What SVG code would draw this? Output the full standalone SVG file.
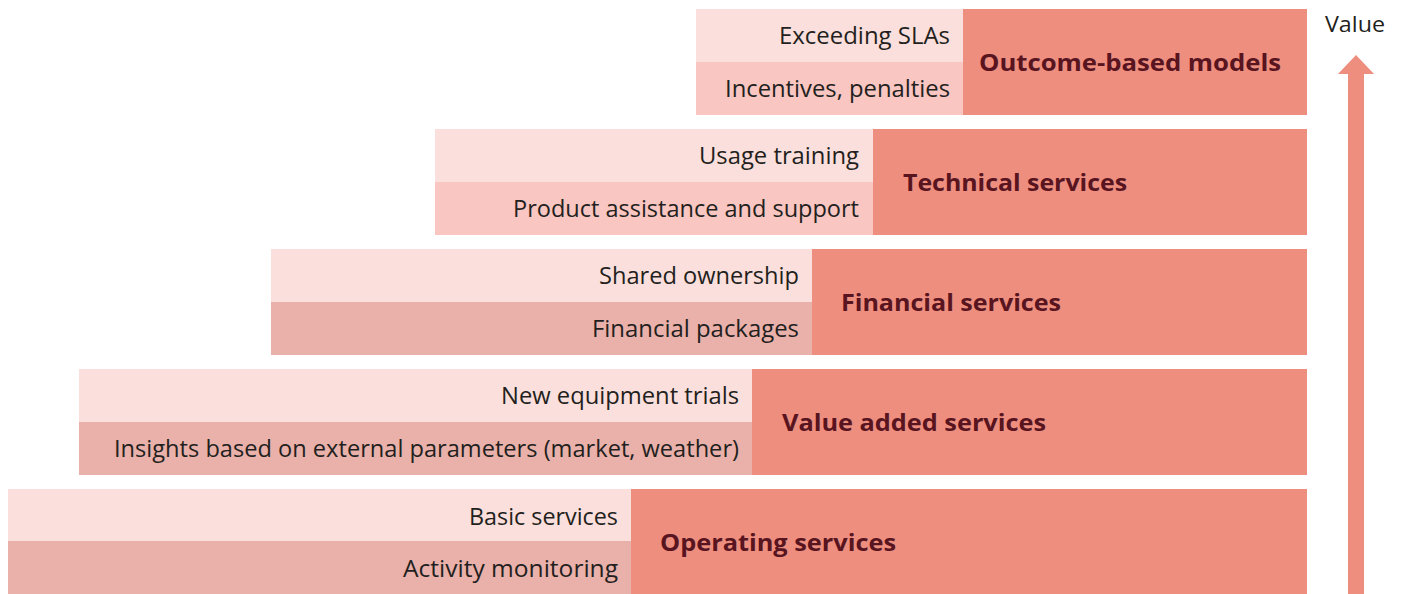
<svg xmlns="http://www.w3.org/2000/svg" width="1402" height="594" viewBox="0 0 1402 594">
  <style>
    .light { fill: #FBDFDC; }
    .pink { fill: #F9C6C1; }
    .dusty { fill: #EAB1AA; }
    .main { fill: #EE8E7E; }
    .sub { font-family: "Open Sans", "Noto Sans", sans-serif; font-size: 23px; fill: #231F20; text-anchor: end; }
    .head { font-family: "Open Sans", "Noto Sans", sans-serif; font-size: 24px; font-weight: bold; fill: #58141F; }
    .axis { font-family: "Open Sans", "Noto Sans", sans-serif; font-size: 22px; fill: #231F20; }
  </style>
  <rect width="1402" height="594" fill="#FFFFFF"/>

  <!-- Tier 5: outcome-based models -->
  <g id="outcome-based-models">
    <rect class="light" x="696" y="9" width="267" height="53"/>
    <rect class="pink" x="696" y="62" width="267" height="53"/>
    <rect class="main" x="963" y="9" width="344" height="106"/>
    <text class="sub" x="950" y="44" textLength="171" lengthAdjust="spacingAndGlyphs">Exceeding SLAs</text>
    <text class="sub" x="950" y="97" textLength="225" lengthAdjust="spacingAndGlyphs">Incentives, penalties</text>
    <text class="head" x="979" y="71" textLength="302" lengthAdjust="spacingAndGlyphs">Outcome-based models</text>
  </g>

  <!-- Tier 4: technical services -->
  <g id="technical-services">
    <rect class="light" x="435" y="129" width="438" height="53"/>
    <rect class="pink" x="435" y="182" width="438" height="53"/>
    <rect class="main" x="873" y="129" width="434" height="106"/>
    <text class="sub" x="859" y="164" textLength="160" lengthAdjust="spacingAndGlyphs">Usage training</text>
    <text class="sub" x="859" y="217" textLength="346" lengthAdjust="spacingAndGlyphs">Product assistance and support</text>
    <text class="head" x="903" y="191" textLength="224" lengthAdjust="spacingAndGlyphs">Technical services</text>
  </g>

  <!-- Tier 3: financial services -->
  <g id="financial-services">
    <rect class="light" x="271" y="249" width="541" height="53"/>
    <rect class="dusty" x="271" y="302" width="541" height="53"/>
    <rect class="main" x="812" y="249" width="495" height="106"/>
    <text class="sub" x="799" y="284" textLength="200" lengthAdjust="spacingAndGlyphs">Shared ownership</text>
    <text class="sub" x="799" y="337" textLength="207" lengthAdjust="spacingAndGlyphs">Financial packages</text>
    <text class="head" x="841" y="311" textLength="220" lengthAdjust="spacingAndGlyphs">Financial services</text>
  </g>

  <!-- Tier 2: value added services -->
  <g id="value-added-services">
    <rect class="light" x="79" y="369" width="673" height="53"/>
    <rect class="dusty" x="79" y="422" width="673" height="53"/>
    <rect class="main" x="752" y="369" width="555" height="106"/>
    <text class="sub" x="739" y="404" textLength="238" lengthAdjust="spacingAndGlyphs">New equipment trials</text>
    <text class="sub" x="739" y="457" textLength="625" lengthAdjust="spacingAndGlyphs">Insights based on external parameters (market, weather)</text>
    <text class="head" x="782" y="431" textLength="264" lengthAdjust="spacingAndGlyphs">Value added services</text>
  </g>

  <!-- Tier 1: operating services -->
  <g id="operating-services">
    <rect class="light" x="8" y="489" width="623" height="52"/>
    <rect class="dusty" x="8" y="541" width="623" height="53"/>
    <rect class="main" x="631" y="489" width="676" height="105"/>
    <text class="sub" x="618" y="525" textLength="149" lengthAdjust="spacingAndGlyphs">Basic services</text>
    <text class="sub" x="618" y="577" textLength="215" lengthAdjust="spacingAndGlyphs">Activity monitoring</text>
    <text class="head" x="660" y="551" textLength="236" lengthAdjust="spacingAndGlyphs">Operating services</text>
  </g>

  <!-- Value axis -->
  <g id="connectors">
    <polygon class="main" points="1356,55 1374,74 1364,74 1364,594 1348,594 1348,74 1338,74"/>
  </g>
  <g id="value-label">
    <text class="axis" x="1325" y="32" textLength="60" lengthAdjust="spacingAndGlyphs">Value</text>
  </g>
</svg>
